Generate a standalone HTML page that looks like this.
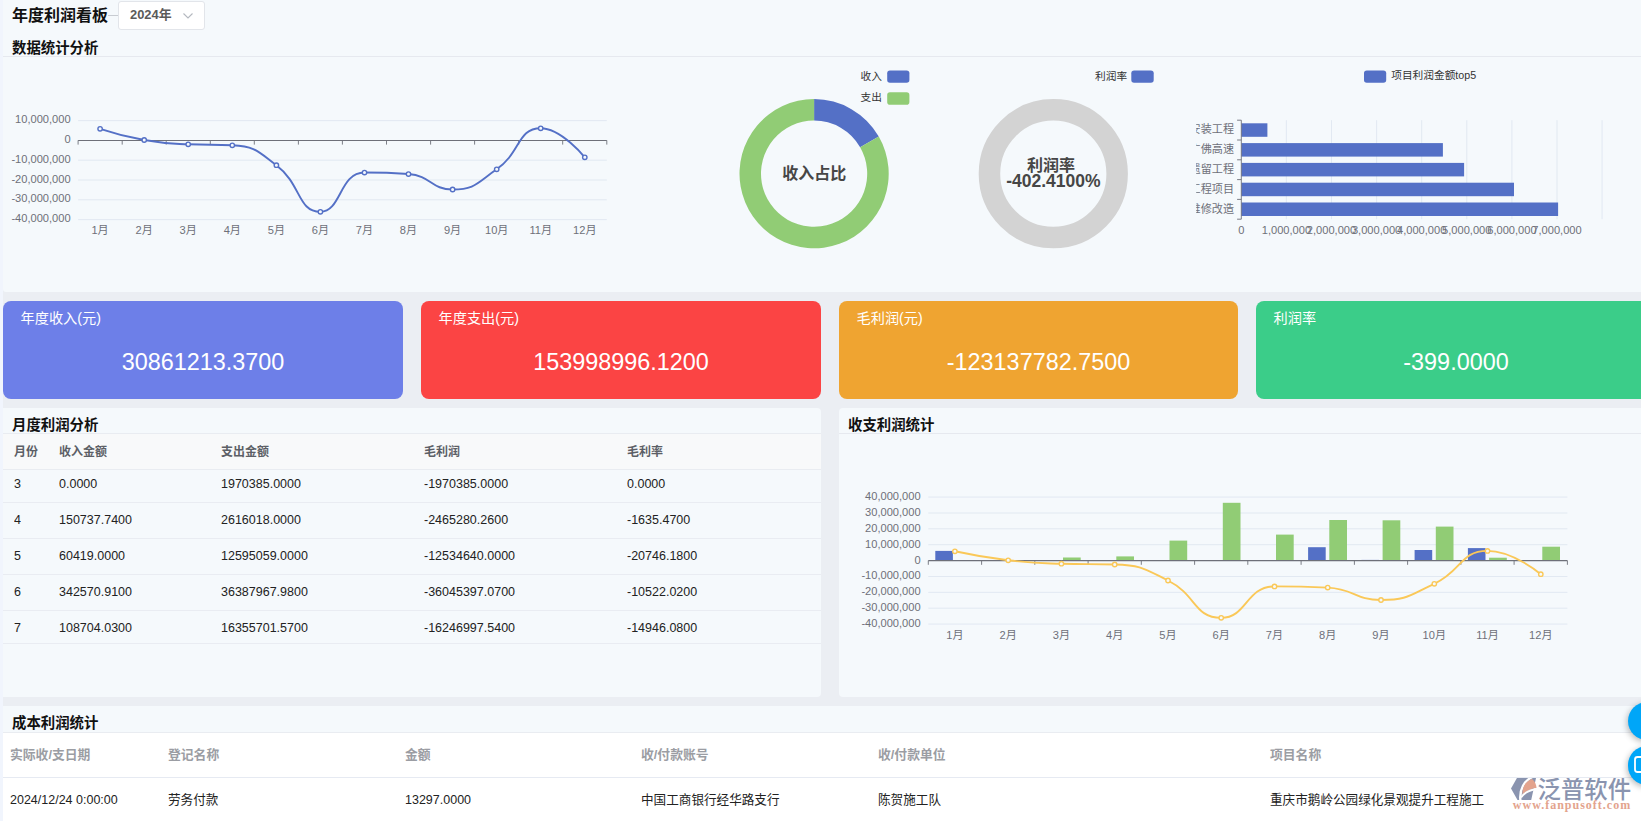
<!DOCTYPE html>
<html lang="zh-CN">
<head>
<meta charset="utf-8">
<title>年度利润看板</title>
<style>
*{box-sizing:border-box;margin:0;padding:0}
html,body{width:1641px;height:821px;overflow:hidden;background:#f1f5fd}
body{font-family:"Liberation Sans","Noto Sans CJK SC",sans-serif;color:#333;position:relative}
#wrap{position:absolute;left:3px;top:0;width:1638px;height:821px;background:#ebeef3;overflow:hidden}
.abs{position:absolute}
.panel{position:absolute;background:#f5f9fc}
.h1{position:absolute;left:12px;top:4.4px;font-size:16px;font-weight:700;color:#111;line-height:24px;white-space:nowrap}
.h2{position:absolute;font-size:14.4px;font-weight:700;color:#111;line-height:20px;white-space:nowrap}
.hr{position:absolute;height:1px;background:#e6e9ef}
.sel{position:absolute;left:118px;top:1px;width:87px;height:29px;background:#fff;border:1px solid #e2e5ea;border-radius:3px}
.sel span{position:absolute;left:11px;top:5.4px;font-size:12.9px;font-weight:700;color:#5a5a5a;line-height:15px;white-space:nowrap}
.sel svg{position:absolute;left:62.5px;top:10px}
.dash{position:absolute;left:108px;top:15px;width:10px;height:1px;background:#c8ccd2}
.card{position:absolute;top:301px;width:400px;height:98px;border-radius:8px;color:#fff}
.card .lb{position:absolute;left:17.5px;top:7.6px;font-size:14.2px;line-height:18px;white-space:nowrap}
.card .nm{position:absolute;left:0;right:0;top:46px;text-align:center;font-size:23.4px;line-height:30px;white-space:nowrap}
svg text{font-family:"Liberation Sans","Noto Sans CJK SC",sans-serif}
.ax{font-size:11.1px;fill:#6e7079}
.lg{font-size:10.7px;fill:#333}
.ttl{font-size:16px;font-weight:700;fill:#464646}
.th{position:absolute;font-size:12px;font-weight:700;color:#5c5f66;line-height:16px;white-space:nowrap}
.td{position:absolute;font-size:12.5px;color:#222;line-height:16px;white-space:nowrap}
.th2{position:absolute;font-size:12.8px;font-weight:700;color:#9b9da3;line-height:16px;white-space:nowrap}
.fab{position:absolute;width:38.6px;height:38.6px;border-radius:50%;background:#00a6f8;box-shadow:-1px 2px 6px rgba(0,0,0,.28)}
.num{transform:scaleY(1.05);transform-origin:50% 50%}
</style>
</head>
<body>
<div id="wrap"></div>

<!-- top panel -->
<div class="panel" style="left:3px;top:0;width:1638px;height:292px;border-radius:0 0 0 3px"></div>
<div class="h1">年度利润看板</div>
<div class="dash"></div>
<div class="sel"><span>2024年</span><svg width="12" height="8" viewBox="0 0 12 8"><path d="M1.5 1.5 L6 6 L10.5 1.5" fill="none" stroke="#b4b8bf" stroke-width="1.1"/></svg></div>
<div class="h2" style="left:12px;top:37.5px">数据统计分析</div>
<div class="hr" style="left:3px;top:56px;width:1638px"></div>
<svg class="abs" style="left:0;top:0" width="1641" height="292" viewBox="0 0 1641 292">
<line x1="78.1" x2="606.8" y1="120.6" y2="120.6" stroke="#e0e6f1" stroke-width="0.9"/>
<text x="70.6" y="123.1" text-anchor="end" class="ax">10,000,000</text>
<text x="70.6" y="142.9" text-anchor="end" class="ax">0</text>
<line x1="78.1" x2="606.8" y1="160.2" y2="160.2" stroke="#e0e6f1" stroke-width="0.9"/>
<text x="70.6" y="162.7" text-anchor="end" class="ax">-10,000,000</text>
<line x1="78.1" x2="606.8" y1="180.0" y2="180.0" stroke="#e0e6f1" stroke-width="0.9"/>
<text x="70.6" y="182.5" text-anchor="end" class="ax">-20,000,000</text>
<line x1="78.1" x2="606.8" y1="199.8" y2="199.8" stroke="#e0e6f1" stroke-width="0.9"/>
<text x="70.6" y="202.3" text-anchor="end" class="ax">-30,000,000</text>
<line x1="78.1" x2="606.8" y1="219.6" y2="219.6" stroke="#e0e6f1" stroke-width="0.9"/>
<text x="70.6" y="222.1" text-anchor="end" class="ax">-40,000,000</text>
<line x1="78.1" x2="606.8" y1="140.4" y2="140.4" stroke="#6e7079" stroke-width="1.05"/>
<line x1="78.1" x2="78.1" y1="140.4" y2="144.6" stroke="#6e7079" stroke-width="0.9"/>
<line x1="122.2" x2="122.2" y1="140.4" y2="144.6" stroke="#6e7079" stroke-width="0.9"/>
<line x1="166.2" x2="166.2" y1="140.4" y2="144.6" stroke="#6e7079" stroke-width="0.9"/>
<line x1="210.3" x2="210.3" y1="140.4" y2="144.6" stroke="#6e7079" stroke-width="0.9"/>
<line x1="254.3" x2="254.3" y1="140.4" y2="144.6" stroke="#6e7079" stroke-width="0.9"/>
<line x1="298.4" x2="298.4" y1="140.4" y2="144.6" stroke="#6e7079" stroke-width="0.9"/>
<line x1="342.4" x2="342.4" y1="140.4" y2="144.6" stroke="#6e7079" stroke-width="0.9"/>
<line x1="386.5" x2="386.5" y1="140.4" y2="144.6" stroke="#6e7079" stroke-width="0.9"/>
<line x1="430.6" x2="430.6" y1="140.4" y2="144.6" stroke="#6e7079" stroke-width="0.9"/>
<line x1="474.6" x2="474.6" y1="140.4" y2="144.6" stroke="#6e7079" stroke-width="0.9"/>
<line x1="518.7" x2="518.7" y1="140.4" y2="144.6" stroke="#6e7079" stroke-width="0.9"/>
<line x1="562.7" x2="562.7" y1="140.4" y2="144.6" stroke="#6e7079" stroke-width="0.9"/>
<line x1="606.8" x2="606.8" y1="140.4" y2="144.6" stroke="#6e7079" stroke-width="0.9"/>
<text x="100.1" y="234.2" text-anchor="middle" class="ax">1月</text>
<text x="144.2" y="234.2" text-anchor="middle" class="ax">2月</text>
<text x="188.2" y="234.2" text-anchor="middle" class="ax">3月</text>
<text x="232.3" y="234.2" text-anchor="middle" class="ax">4月</text>
<text x="276.4" y="234.2" text-anchor="middle" class="ax">5月</text>
<text x="320.4" y="234.2" text-anchor="middle" class="ax">6月</text>
<text x="364.5" y="234.2" text-anchor="middle" class="ax">7月</text>
<text x="408.5" y="234.2" text-anchor="middle" class="ax">8月</text>
<text x="452.6" y="234.2" text-anchor="middle" class="ax">9月</text>
<text x="496.7" y="234.2" text-anchor="middle" class="ax">10月</text>
<text x="540.7" y="234.2" text-anchor="middle" class="ax">11月</text>
<text x="584.8" y="234.2" text-anchor="middle" class="ax">12月</text>
<path d="M100.13,128.80C100.13,128.80 121.87,136.08 144.19,140.00C165.92,143.83 166.17,143.32 188.25,144.30C210.23,145.28 211.30,144.30 232.30,145.28C255.36,146.36 257.42,150.92 276.36,165.22C301.47,184.17 297.47,211.77 320.42,211.77C341.53,211.77 339.27,172.57 364.48,172.57C383.33,172.57 387.14,172.57 408.54,174.06C431.20,175.64 430.98,189.50 452.60,189.50C475.04,189.50 477.01,182.96 496.65,169.31C521.06,152.34 517.23,128.26 540.71,128.26C561.29,128.26 584.77,157.33 584.77,157.33" fill="none" stroke="#5470c6" stroke-width="1.9" stroke-linejoin="bevel"/>
<circle cx="100.1" cy="128.8" r="2.2" fill="#f5f9fc" stroke="#5470c6" stroke-width="1.4"/>
<circle cx="144.2" cy="140.0" r="2.2" fill="#f5f9fc" stroke="#5470c6" stroke-width="1.4"/>
<circle cx="188.2" cy="144.3" r="2.2" fill="#f5f9fc" stroke="#5470c6" stroke-width="1.4"/>
<circle cx="232.3" cy="145.3" r="2.2" fill="#f5f9fc" stroke="#5470c6" stroke-width="1.4"/>
<circle cx="276.4" cy="165.2" r="2.2" fill="#f5f9fc" stroke="#5470c6" stroke-width="1.4"/>
<circle cx="320.4" cy="211.8" r="2.2" fill="#f5f9fc" stroke="#5470c6" stroke-width="1.4"/>
<circle cx="364.5" cy="172.6" r="2.2" fill="#f5f9fc" stroke="#5470c6" stroke-width="1.4"/>
<circle cx="408.5" cy="174.1" r="2.2" fill="#f5f9fc" stroke="#5470c6" stroke-width="1.4"/>
<circle cx="452.6" cy="189.5" r="2.2" fill="#f5f9fc" stroke="#5470c6" stroke-width="1.4"/>
<circle cx="496.7" cy="169.3" r="2.2" fill="#f5f9fc" stroke="#5470c6" stroke-width="1.4"/>
<circle cx="540.7" cy="128.3" r="2.2" fill="#f5f9fc" stroke="#5470c6" stroke-width="1.4"/>
<circle cx="584.8" cy="157.3" r="2.2" fill="#f5f9fc" stroke="#5470c6" stroke-width="1.4"/>
<path d="M814.10,99.10A74.6,74.6 0 0 1 878.77,136.51L860.13,147.23A53.1,53.1 0 0 0 814.10,120.60Z" fill="#5470c6"/>
<path d="M878.77,136.51A74.6,74.6 0 1 1 814.10,99.10L814.10,120.60A53.1,53.1 0 1 0 860.13,147.23Z" fill="#91cc75"/>
<text x="814.3000000000001" y="179.2" text-anchor="middle" class="ttl">收入占比</text>
<text x="882" y="79.6" text-anchor="end" class="lg">收入</text><rect x="887.2" y="70.4" width="22.2" height="12.4" rx="2.8" fill="#5470c6"/>
<text x="882" y="101.4" text-anchor="end" class="lg">支出</text><rect x="887.2" y="92.3" width="22.2" height="12.4" rx="2.8" fill="#91cc75"/>
<circle cx="1053.3" cy="173.7" r="63.85" fill="none" stroke="#d3d3d3" stroke-width="21.5"/>
<text x="1051" y="170.8" text-anchor="middle" class="ttl">利润率</text>
<text x="1053.4" y="187.0" text-anchor="middle" class="ttl" style="font-size:17.5px">-402.4100%</text>
<text x="1127.2" y="79.6" text-anchor="end" class="lg">利润率</text><rect x="1131.3" y="70.4" width="22.4" height="12.4" rx="2.8" fill="#5470c6"/>
<defs><clipPath id="yclip"><rect x="1196.2" y="110" width="60" height="120"/></clipPath></defs>
<line x1="1286.4" x2="1286.4" y1="120.2" y2="219.2" stroke="#e0e6f1" stroke-width="0.9"/>
<line x1="1331.5" x2="1331.5" y1="120.2" y2="219.2" stroke="#e0e6f1" stroke-width="0.9"/>
<line x1="1376.6" x2="1376.6" y1="120.2" y2="219.2" stroke="#e0e6f1" stroke-width="0.9"/>
<line x1="1421.7" x2="1421.7" y1="120.2" y2="219.2" stroke="#e0e6f1" stroke-width="0.9"/>
<line x1="1466.8" x2="1466.8" y1="120.2" y2="219.2" stroke="#e0e6f1" stroke-width="0.9"/>
<line x1="1511.9" x2="1511.9" y1="120.2" y2="219.2" stroke="#e0e6f1" stroke-width="0.9"/>
<line x1="1557.0" x2="1557.0" y1="120.2" y2="219.2" stroke="#e0e6f1" stroke-width="0.9"/>
<line x1="1602.1" x2="1602.1" y1="120.2" y2="219.2" stroke="#e0e6f1" stroke-width="0.9"/>
<rect x="1241.3" y="123.3" width="26.1" height="13.5" fill="#5470c6"/>
<text x="1234" y="133.3" text-anchor="end" class="ax" clip-path="url(#yclip)">水电安装工程</text>
<rect x="1241.3" y="143.1" width="201.6" height="13.5" fill="#5470c6"/>
<text x="1234" y="153.1" text-anchor="end" class="ax" clip-path="url(#yclip)">广佛高速</text>
<rect x="1241.3" y="162.9" width="222.8" height="13.5" fill="#5470c6"/>
<text x="1234" y="172.9" text-anchor="end" class="ax" clip-path="url(#yclip)">遗留工程</text>
<rect x="1241.3" y="182.7" width="272.7" height="13.5" fill="#5470c6"/>
<text x="1234" y="192.7" text-anchor="end" class="ax" clip-path="url(#yclip)">工程项目</text>
<rect x="1241.3" y="202.5" width="316.8" height="13.5" fill="#5470c6"/>
<text x="1234" y="212.5" text-anchor="end" class="ax" clip-path="url(#yclip)">维修改造</text>
<line x1="1241.3" x2="1241.3" y1="120.2" y2="219.2" stroke="#6e7079" stroke-width="0.9"/>
<line x1="1237.1" x2="1241.3" y1="120.2" y2="120.2" stroke="#6e7079" stroke-width="0.9"/>
<line x1="1237.1" x2="1241.3" y1="140.0" y2="140.0" stroke="#6e7079" stroke-width="0.9"/>
<line x1="1237.1" x2="1241.3" y1="159.8" y2="159.8" stroke="#6e7079" stroke-width="0.9"/>
<line x1="1237.1" x2="1241.3" y1="179.6" y2="179.6" stroke="#6e7079" stroke-width="0.9"/>
<line x1="1237.1" x2="1241.3" y1="199.4" y2="199.4" stroke="#6e7079" stroke-width="0.9"/>
<line x1="1237.1" x2="1241.3" y1="219.2" y2="219.2" stroke="#6e7079" stroke-width="0.9"/>
<text x="1241.3" y="234" text-anchor="middle" class="ax">0</text>
<text x="1286.4" y="234" text-anchor="middle" class="ax">1,000,000</text>
<text x="1331.5" y="234" text-anchor="middle" class="ax">2,000,000</text>
<text x="1376.6" y="234" text-anchor="middle" class="ax">3,000,000</text>
<text x="1421.7" y="234" text-anchor="middle" class="ax">4,000,000</text>
<text x="1466.8" y="234" text-anchor="middle" class="ax">5,000,000</text>
<text x="1511.9" y="234" text-anchor="middle" class="ax">6,000,000</text>
<text x="1557.0" y="234" text-anchor="middle" class="ax">7,000,000</text>
<rect x="1364" y="70.4" width="22.2" height="12.4" rx="2.8" fill="#5470c6"/><text x="1391.2" y="79.2" class="lg">项目利润金额top5</text>
</svg>

<!-- KPI cards -->
<div class="card" style="left:3px;background:#6d7fe8"><div class="lb">年度收入(元)</div><div class="nm">30861213.3700</div></div>
<div class="card" style="left:421px;background:#fb4444"><div class="lb">年度支出(元)</div><div class="nm">153998996.1200</div></div>
<div class="card" style="left:839px;width:399px;background:#efa431"><div class="lb">毛利润(元)</div><div class="nm">-123137782.7500</div></div>
<div class="card" style="left:1256px;background:#3bcd89"><div class="lb">利润率</div><div class="nm">-399.0000</div></div>

<!-- middle left: monthly table -->
<div class="panel" style="left:3px;top:408px;width:818px;height:289px;border-radius:0 4px 4px 0"></div>
<div class="h2" style="left:12px;top:414.8px">月度利润分析</div>
<div class="abs" style="left:3px;top:432.8px;width:818px;height:36.9px;background:#f8f9fa;border-top:1px solid #e9ecf1;border-bottom:1px solid #e9ecf1"></div>
<div class="th" style="left:14px;top:443.5px">月份</div>
<div class="th" style="left:59px;top:443.5px">收入金额</div>
<div class="th" style="left:221px;top:443.5px">支出金额</div>
<div class="th" style="left:424px;top:443.5px">毛利润</div>
<div class="th" style="left:627px;top:443.5px">毛利率</div>
<div class="td num" style="left:14px;top:475.5px">3</div>
<div class="td num" style="left:59px;top:475.5px">0.0000</div>
<div class="td num" style="left:221px;top:475.5px">1970385.0000</div>
<div class="td num" style="left:424px;top:475.5px">-1970385.0000</div>
<div class="td num" style="left:627px;top:475.5px">0.0000</div>
<div class="hr" style="left:3px;top:501.7px;width:818px;background:#e9ecf2"></div>
<div class="td num" style="left:14px;top:511.5px">4</div>
<div class="td num" style="left:59px;top:511.5px">150737.7400</div>
<div class="td num" style="left:221px;top:511.5px">2616018.0000</div>
<div class="td num" style="left:424px;top:511.5px">-2465280.2600</div>
<div class="td num" style="left:627px;top:511.5px">-1635.4700</div>
<div class="hr" style="left:3px;top:537.6px;width:818px;background:#e9ecf2"></div>
<div class="td num" style="left:14px;top:547.5px">5</div>
<div class="td num" style="left:59px;top:547.5px">60419.0000</div>
<div class="td num" style="left:221px;top:547.5px">12595059.0000</div>
<div class="td num" style="left:424px;top:547.5px">-12534640.0000</div>
<div class="td num" style="left:627px;top:547.5px">-20746.1800</div>
<div class="hr" style="left:3px;top:573.5px;width:818px;background:#e9ecf2"></div>
<div class="td num" style="left:14px;top:583.5px">6</div>
<div class="td num" style="left:59px;top:583.5px">342570.9100</div>
<div class="td num" style="left:221px;top:583.5px">36387967.9800</div>
<div class="td num" style="left:424px;top:583.5px">-36045397.0700</div>
<div class="td num" style="left:627px;top:583.5px">-10522.0200</div>
<div class="hr" style="left:3px;top:609.6px;width:818px;background:#e9ecf2"></div>
<div class="td num" style="left:14px;top:619.5px">7</div>
<div class="td num" style="left:59px;top:619.5px">108704.0300</div>
<div class="td num" style="left:221px;top:619.5px">16355701.5700</div>
<div class="td num" style="left:424px;top:619.5px">-16246997.5400</div>
<div class="td num" style="left:627px;top:619.5px">-14946.0800</div>
<div class="hr" style="left:3px;top:642.8px;width:818px;background:#e9ecf2"></div>

<!-- middle right: chart -->
<div class="panel" style="left:839px;top:408px;width:802px;height:289px;border-radius:4px 0 0 4px"></div>
<div class="h2" style="left:848px;top:414.8px">收支利润统计</div>
<div class="hr" style="left:839px;top:432.9px;width:802px"></div>
<svg class="abs" style="left:0;top:408px" width="1641" height="289" viewBox="0 408 1641 289">
<line x1="928.3" x2="1567.4" y1="497.1" y2="497.1" stroke="#e0e6f1" stroke-width="0.9"/>
<text x="920.6" y="500.0" text-anchor="end" class="ax">40,000,000</text>
<line x1="928.3" x2="1567.4" y1="513.0" y2="513.0" stroke="#e0e6f1" stroke-width="0.9"/>
<text x="920.6" y="515.9" text-anchor="end" class="ax">30,000,000</text>
<line x1="928.3" x2="1567.4" y1="528.8" y2="528.8" stroke="#e0e6f1" stroke-width="0.9"/>
<text x="920.6" y="531.7" text-anchor="end" class="ax">20,000,000</text>
<line x1="928.3" x2="1567.4" y1="544.7" y2="544.7" stroke="#e0e6f1" stroke-width="0.9"/>
<text x="920.6" y="547.6" text-anchor="end" class="ax">10,000,000</text>
<text x="920.6" y="563.5" text-anchor="end" class="ax">0</text>
<line x1="928.3" x2="1567.4" y1="576.5" y2="576.5" stroke="#e0e6f1" stroke-width="0.9"/>
<text x="920.6" y="579.4" text-anchor="end" class="ax">-10,000,000</text>
<line x1="928.3" x2="1567.4" y1="592.4" y2="592.4" stroke="#e0e6f1" stroke-width="0.9"/>
<text x="920.6" y="595.3" text-anchor="end" class="ax">-20,000,000</text>
<line x1="928.3" x2="1567.4" y1="608.2" y2="608.2" stroke="#e0e6f1" stroke-width="0.9"/>
<text x="920.6" y="611.1" text-anchor="end" class="ax">-30,000,000</text>
<line x1="928.3" x2="1567.4" y1="624.1" y2="624.1" stroke="#e0e6f1" stroke-width="0.9"/>
<text x="920.6" y="627.0" text-anchor="end" class="ax">-40,000,000</text>
<rect x="935.3" y="550.9" width="17.6" height="9.7" fill="#5470c6"/>
<rect x="956.5" y="560.2" width="17.7" height="0.4" fill="#91cc75"/>
<rect x="1063.0" y="557.5" width="17.7" height="3.1" fill="#91cc75"/>
<rect x="1095.1" y="560.4" width="17.6" height="0.2" fill="#5470c6"/>
<rect x="1116.3" y="556.4" width="17.7" height="4.2" fill="#91cc75"/>
<rect x="1169.5" y="540.6" width="17.7" height="20.0" fill="#91cc75"/>
<rect x="1201.6" y="560.1" width="17.6" height="0.5" fill="#5470c6"/>
<rect x="1222.8" y="502.8" width="17.7" height="57.8" fill="#91cc75"/>
<rect x="1276.0" y="534.6" width="17.7" height="26.0" fill="#91cc75"/>
<rect x="1308.1" y="547.2" width="17.6" height="13.4" fill="#5470c6"/>
<rect x="1329.3" y="520.0" width="17.7" height="40.6" fill="#91cc75"/>
<rect x="1361.4" y="559.9" width="17.6" height="0.7" fill="#5470c6"/>
<rect x="1382.6" y="520.3" width="17.7" height="40.3" fill="#91cc75"/>
<rect x="1414.6" y="550.0" width="17.6" height="10.6" fill="#5470c6"/>
<rect x="1435.8" y="526.6" width="17.7" height="34.0" fill="#91cc75"/>
<rect x="1467.9" y="548.1" width="17.6" height="12.5" fill="#5470c6"/>
<rect x="1489.1" y="557.7" width="17.7" height="2.9" fill="#91cc75"/>
<rect x="1542.3" y="546.7" width="17.7" height="13.9" fill="#91cc75"/>
<line x1="928.3" x2="1567.4" y1="560.6" y2="560.6" stroke="#6e7079" stroke-width="1.05"/>
<line x1="928.3" x2="928.3" y1="560.6" y2="564.8000000000001" stroke="#6e7079" stroke-width="0.9"/>
<line x1="981.6" x2="981.6" y1="560.6" y2="564.8000000000001" stroke="#6e7079" stroke-width="0.9"/>
<line x1="1034.8" x2="1034.8" y1="560.6" y2="564.8000000000001" stroke="#6e7079" stroke-width="0.9"/>
<line x1="1088.1" x2="1088.1" y1="560.6" y2="564.8000000000001" stroke="#6e7079" stroke-width="0.9"/>
<line x1="1141.3" x2="1141.3" y1="560.6" y2="564.8000000000001" stroke="#6e7079" stroke-width="0.9"/>
<line x1="1194.6" x2="1194.6" y1="560.6" y2="564.8000000000001" stroke="#6e7079" stroke-width="0.9"/>
<line x1="1247.8" x2="1247.8" y1="560.6" y2="564.8000000000001" stroke="#6e7079" stroke-width="0.9"/>
<line x1="1301.1" x2="1301.1" y1="560.6" y2="564.8000000000001" stroke="#6e7079" stroke-width="0.9"/>
<line x1="1354.4" x2="1354.4" y1="560.6" y2="564.8000000000001" stroke="#6e7079" stroke-width="0.9"/>
<line x1="1407.6" x2="1407.6" y1="560.6" y2="564.8000000000001" stroke="#6e7079" stroke-width="0.9"/>
<line x1="1460.9" x2="1460.9" y1="560.6" y2="564.8000000000001" stroke="#6e7079" stroke-width="0.9"/>
<line x1="1514.1" x2="1514.1" y1="560.6" y2="564.8000000000001" stroke="#6e7079" stroke-width="0.9"/>
<line x1="1567.4" x2="1567.4" y1="560.6" y2="564.8000000000001" stroke="#6e7079" stroke-width="0.9"/>
<text x="954.9" y="639.2" text-anchor="middle" class="ax">1月</text>
<text x="1008.2" y="639.2" text-anchor="middle" class="ax">2月</text>
<text x="1061.4" y="639.2" text-anchor="middle" class="ax">3月</text>
<text x="1114.7" y="639.2" text-anchor="middle" class="ax">4月</text>
<text x="1168.0" y="639.2" text-anchor="middle" class="ax">5月</text>
<text x="1221.2" y="639.2" text-anchor="middle" class="ax">6月</text>
<text x="1274.5" y="639.2" text-anchor="middle" class="ax">7月</text>
<text x="1327.7" y="639.2" text-anchor="middle" class="ax">8月</text>
<text x="1381.0" y="639.2" text-anchor="middle" class="ax">9月</text>
<text x="1434.3" y="639.2" text-anchor="middle" class="ax">10月</text>
<text x="1487.5" y="639.2" text-anchor="middle" class="ax">11月</text>
<text x="1540.8" y="639.2" text-anchor="middle" class="ax">12月</text>
<path d="M954.93,551.29C954.93,551.29 981.40,557.16 1008.19,560.28C1034.66,563.37 1034.79,562.94 1061.45,563.73C1088.05,564.51 1088.65,563.73 1114.70,564.51C1141.91,565.34 1143.42,568.22 1167.96,580.51C1196.67,594.88 1193.92,617.84 1221.22,617.84C1247.18,617.84 1245.87,586.40 1274.48,586.40C1299.13,586.40 1301.46,586.40 1327.74,587.60C1354.71,588.82 1354.60,599.98 1381.00,599.98C1407.86,599.98 1409.19,595.34 1434.25,583.78C1462.45,570.78 1459.90,550.87 1487.51,550.87C1513.15,550.87 1540.77,574.18 1540.77,574.18" fill="none" stroke="#fac858" stroke-width="1.9" stroke-linejoin="bevel"/>
<circle cx="954.9" cy="551.3" r="2.2" fill="#f5f9fc" stroke="#fac858" stroke-width="1.4"/>
<circle cx="1008.2" cy="560.3" r="2.2" fill="#f5f9fc" stroke="#fac858" stroke-width="1.4"/>
<circle cx="1061.4" cy="563.7" r="2.2" fill="#f5f9fc" stroke="#fac858" stroke-width="1.4"/>
<circle cx="1114.7" cy="564.5" r="2.2" fill="#f5f9fc" stroke="#fac858" stroke-width="1.4"/>
<circle cx="1168.0" cy="580.5" r="2.2" fill="#f5f9fc" stroke="#fac858" stroke-width="1.4"/>
<circle cx="1221.2" cy="617.8" r="2.2" fill="#f5f9fc" stroke="#fac858" stroke-width="1.4"/>
<circle cx="1274.5" cy="586.4" r="2.2" fill="#f5f9fc" stroke="#fac858" stroke-width="1.4"/>
<circle cx="1327.7" cy="587.6" r="2.2" fill="#f5f9fc" stroke="#fac858" stroke-width="1.4"/>
<circle cx="1381.0" cy="600.0" r="2.2" fill="#f5f9fc" stroke="#fac858" stroke-width="1.4"/>
<circle cx="1434.3" cy="583.8" r="2.2" fill="#f5f9fc" stroke="#fac858" stroke-width="1.4"/>
<circle cx="1487.5" cy="550.9" r="2.2" fill="#f5f9fc" stroke="#fac858" stroke-width="1.4"/>
<circle cx="1540.8" cy="574.2" r="2.2" fill="#f5f9fc" stroke="#fac858" stroke-width="1.4"/>
</svg>

<!-- bottom -->
<div class="panel" style="left:3px;top:705.5px;width:1638px;height:120px"></div>
<div class="h2" style="left:12px;top:713px">成本利润统计</div>
<div class="abs" style="left:3px;top:732px;width:1638px;height:90px;background:#fff;border-top:1px solid #e9ecf1"></div>
<div class="hr" style="left:3px;top:777px;width:1638px;background:#e6eaf2"></div>
<div class="th2" style="left:10px;top:746.7px">实际收/支日期</div>
<div class="th2" style="left:168px;top:746.7px">登记名称</div>
<div class="th2" style="left:405px;top:746.7px">金额</div>
<div class="th2" style="left:641px;top:746.7px">收/付款账号</div>
<div class="th2" style="left:878px;top:746.7px">收/付款单位</div>
<div class="th2" style="left:1270px;top:746.7px">项目名称</div>
<div class="td num" style="left:10px;top:791.5px">2024/12/24 0:00:00</div>
<div class="td" style="left:168px;top:791.5px;font-size:12.6px">劳务付款</div>
<div class="td num" style="left:405px;top:791.5px">13297.0000</div>
<div class="td" style="left:641px;top:791.5px;font-size:12.6px">中国工商银行经华路支行</div>
<div class="td" style="left:878px;top:791.5px;font-size:12.6px">陈贺施工队</div>
<div class="td" style="left:1270px;top:791.5px;font-size:12.6px">重庆市鹅岭公园绿化景观提升工程施工</div>

<!-- watermark logo -->
<div class="abs" style="left:1505px;top:777.5px;width:136px;height:44px;overflow:hidden">
<svg class="abs" style="left:0;top:-1px" width="136" height="44" viewBox="1505 776.5 136 44">
<path d="M1519.5 773 L1537 773 L1531.2 799.5 L1517.5 799.5 L1511 788 Z" fill="#8a94af"/>
<path d="M1520.5 801 C1519 789 1524 779.5 1534.5 775.5" fill="none" stroke="#fff" stroke-width="2.4"/>
<path d="M1522.5 794 C1522 786 1526 780.5 1532 778.5 C1535 781 1536.5 784.5 1536.5 787.5 C1531 788 1526 790.5 1522.5 794 Z" fill="#e3a38d"/>
<path d="M1521 797 C1524.5 792 1530 789 1538 788.5" fill="none" stroke="#fff" stroke-width="2"/>
<text x="1537.6" y="797" style="font-family:'Noto Sans CJK SC',sans-serif;font-size:23.4px;font-weight:500" fill="#8a94af">泛普软件</text>
<text x="1512.8" y="808.9" style="font-family:'Liberation Serif',serif;font-size:12px;font-weight:700;letter-spacing:1.0px" fill="#e3a38d">www.fanpusoft.com</text>
</svg>
</div>

<!-- floating buttons -->
<div class="fab" style="left:1627.8px;top:701.6px"></div>
<div class="fab" style="left:1627.8px;top:746.4px"><svg class="abs" style="left:5.4px;top:8.3px" width="20" height="20" viewBox="0 0 20 20"><rect x="2" y="2" width="16" height="15" rx="2.5" fill="none" stroke="#fff" stroke-width="1.8"/></svg></div>
</body>
</html>
